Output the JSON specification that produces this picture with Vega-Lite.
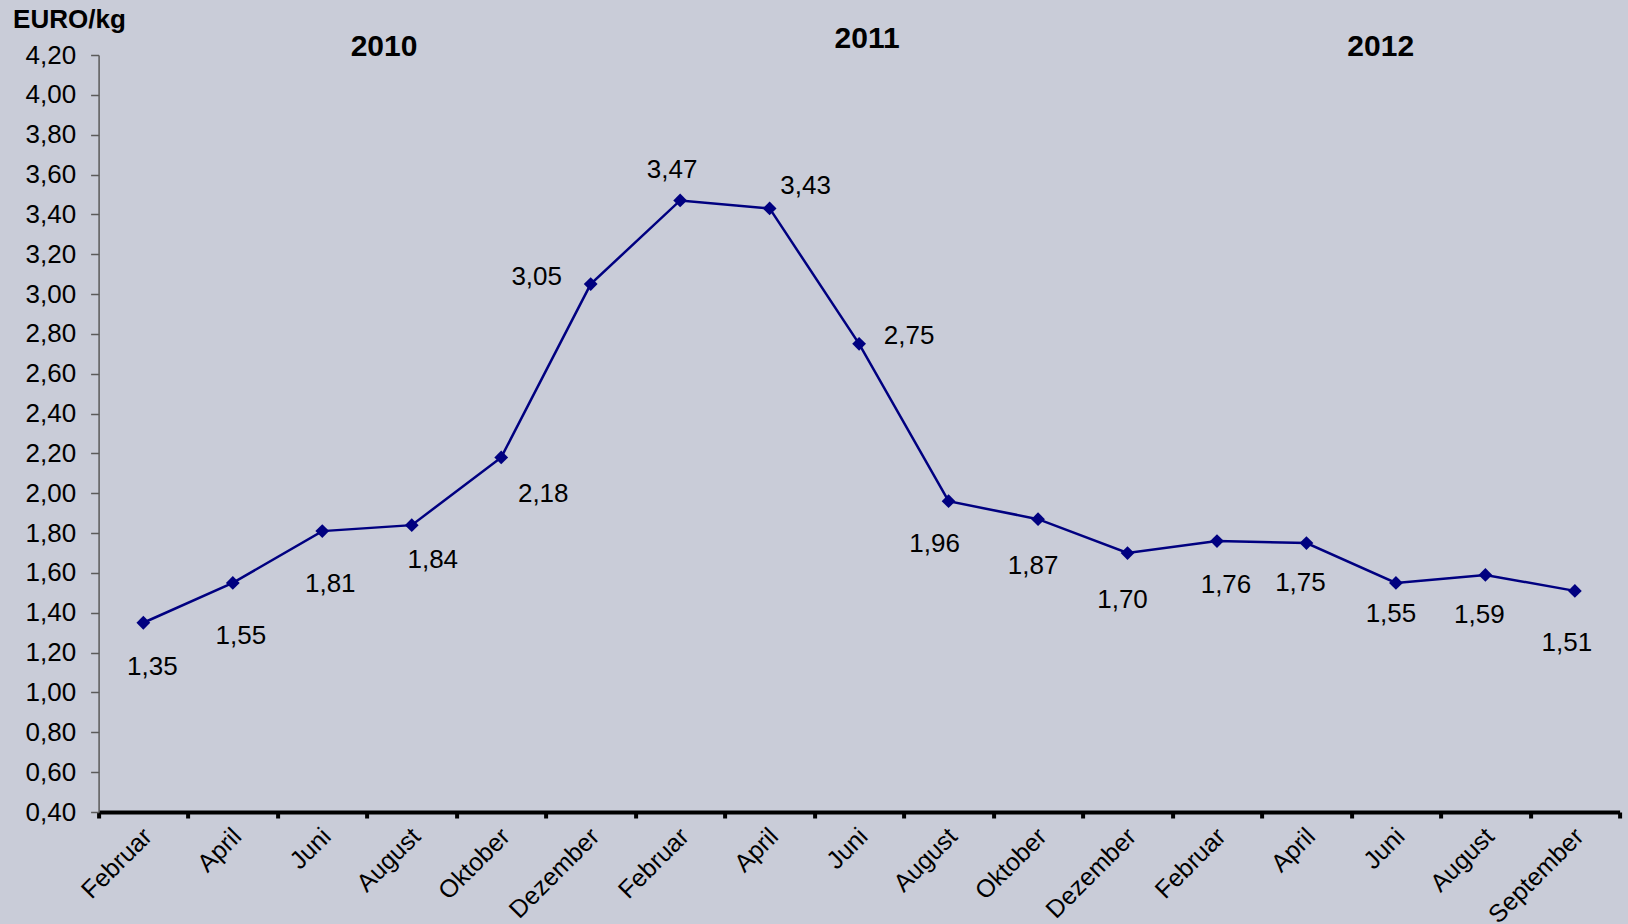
{
  "$schema": "https://vega.github.io/schema/vega-lite/v6.json",
  "width": 1521,
  "height": 757,
  "autosize": {"type": "none"},
  "padding": {"left": 98.6, "top": 55, "right": 8.4, "bottom": 112},
  "background": "#c9ccd8",
  "config": {
    "locale": {"number": {"decimal": ",", "thousands": ".", "grouping": [3], "currency": ["", " €"]}},
    "view": {"stroke": null},
    "font": "Liberation Sans",
    "text": {"font": "Liberation Sans", "fontSize": 26, "color": "#000000", "baseline": "middle", "align": "center"}
  },
  "datasets": {
    "preise": [
      {"key": "Februar 2010", "i": 0, "preis": 1.35},
      {"key": "April 2010", "i": 1, "preis": 1.55},
      {"key": "Juni 2010", "i": 2, "preis": 1.81},
      {"key": "August 2010", "i": 3, "preis": 1.84},
      {"key": "Oktober 2010", "i": 4, "preis": 2.18},
      {"key": "Dezember 2010", "i": 5, "preis": 3.05},
      {"key": "Februar 2011", "i": 6, "preis": 3.47},
      {"key": "April 2011", "i": 7, "preis": 3.43},
      {"key": "Juni 2011", "i": 8, "preis": 2.75},
      {"key": "August 2011", "i": 9, "preis": 1.96},
      {"key": "Oktober 2011", "i": 10, "preis": 1.87},
      {"key": "Dezember 2011", "i": 11, "preis": 1.70},
      {"key": "Februar 2012", "i": 12, "preis": 1.76},
      {"key": "April 2012", "i": 13, "preis": 1.75},
      {"key": "Juni 2012", "i": 14, "preis": 1.55},
      {"key": "August 2012", "i": 15, "preis": 1.59},
      {"key": "September 2012", "i": 16, "preis": 1.51}
    ],
    "jahre": [
      {"jahr": "2010", "pos": 3.19, "preis": 4.24},
      {"jahr": "2011", "pos": 8.59, "preis": 4.28},
      {"jahr": "2012", "pos": 14.33, "preis": 4.24}
    ]
  },
  "encoding": {
    "y": {
      "field": "preis",
      "type": "quantitative",
      "scale": {"domain": [0.4, 4.2], "nice": false, "zero": false},
      "axis": {
        "values": [0.4, 0.6, 0.8, 1.0, 1.2, 1.4, 1.6, 1.8, 2.0, 2.2, 2.4, 2.6, 2.8, 3.0, 3.2, 3.4, 3.6, 3.8, 4.0, 4.2],
        "format": ".2f",
        "grid": false,
        "domainColor": "#5a5a5a",
        "domainWidth": 1.5,
        "tickColor": "#5a5a5a",
        "tickWidth": 1.5,
        "tickSize": 8,
        "labelPadding": 15,
        "labelFont": "Liberation Sans",
        "labelFontSize": 26,
        "labelColor": "#000000",
        "title": "EURO/kg",
        "titleAngle": 0,
        "titleAlign": "left",
        "titleBaseline": "alphabetic",
        "titleX": -86,
        "titleY": -28,
        "titleFont": "Liberation Sans",
        "titleFontSize": 26,
        "titleFontWeight": "bold",
        "titleColor": "#000000"
      }
    }
  },
  "layer": [
    {
      "data": {"name": "preise"},
      "encoding": {
        "x": {
          "field": "key",
          "type": "nominal",
          "sort": null,
          "scale": {"type": "band", "paddingInner": 0, "paddingOuter": 0},
          "axis": {
            "title": null,
            "labelExpr": "isString(datum.value) ? split(datum.value, ' ')[0] : ''",
            "labelAngle": -45,
            "labelAlign": "right",
            "labelBaseline": "middle",
            "labelOffset": 4,
            "labelPadding": 14,
            "labelFont": "Liberation Sans",
            "labelFontSize": 25,
            "labelColor": "#000000",
            "domainColor": "#000000",
            "domainWidth": 4,
            "tickColor": "#000000",
            "tickWidth": 4,
            "tickSize": 6,
            "tickBand": "extent",
            "grid": false
          }
        }
      },
      "layer": [
        {"mark": {"type": "line", "color": "#000080", "strokeWidth": 2.5}},
        {"mark": {"type": "point", "shape": "diamond", "filled": true, "color": "#000080", "size": 190, "opacity": 1}},
        {"transform": [{"filter": {"field": "i", "oneOf": [1, 2]}}], "mark": {"type": "text", "dx": 8, "dy": 53}, "encoding": {"text": {"field": "preis", "type": "quantitative", "format": ".2f"}}},
        {"transform": [{"filter": {"field": "i", "oneOf": [16]}}], "mark": {"type": "text", "dx": -8, "dy": 52}, "encoding": {"text": {"field": "preis", "type": "quantitative", "format": ".2f"}}},
        {"transform": [{"filter": {"field": "i", "oneOf": [0, 12]}}], "mark": {"type": "text", "dx": 9, "dy": 44}, "encoding": {"text": {"field": "preis", "type": "quantitative", "format": ".2f"}}},
        {"transform": [{"filter": {"field": "i", "oneOf": [10, 11]}}], "mark": {"type": "text", "dx": -5, "dy": 47}, "encoding": {"text": {"field": "preis", "type": "quantitative", "format": ".2f"}}},
        {"transform": [{"filter": {"field": "i", "oneOf": [9]}}], "mark": {"type": "text", "dx": -14, "dy": 43}, "encoding": {"text": {"field": "preis", "type": "quantitative", "format": ".2f"}}},
        {"transform": [{"filter": {"field": "i", "oneOf": [13, 15]}}], "mark": {"type": "text", "dx": -6, "dy": 40}, "encoding": {"text": {"field": "preis", "type": "quantitative", "format": ".2f"}}},
        {"transform": [{"filter": {"field": "i", "oneOf": [14]}}], "mark": {"type": "text", "dx": -5, "dy": 31}, "encoding": {"text": {"field": "preis", "type": "quantitative", "format": ".2f"}}},
        {"transform": [{"filter": {"field": "i", "oneOf": [3]}}], "mark": {"type": "text", "dx": 21, "dy": 35}, "encoding": {"text": {"field": "preis", "type": "quantitative", "format": ".2f"}}},
        {"transform": [{"filter": {"field": "i", "oneOf": [4]}}], "mark": {"type": "text", "dx": 42, "dy": 37}, "encoding": {"text": {"field": "preis", "type": "quantitative", "format": ".2f"}}},
        {"transform": [{"filter": {"field": "i", "oneOf": [5]}}], "mark": {"type": "text", "dx": -54, "dy": -7}, "encoding": {"text": {"field": "preis", "type": "quantitative", "format": ".2f"}}},
        {"transform": [{"filter": {"field": "i", "oneOf": [6]}}], "mark": {"type": "text", "dx": -8, "dy": -30}, "encoding": {"text": {"field": "preis", "type": "quantitative", "format": ".2f"}}},
        {"transform": [{"filter": {"field": "i", "oneOf": [7]}}], "mark": {"type": "text", "dx": 36, "dy": -22}, "encoding": {"text": {"field": "preis", "type": "quantitative", "format": ".2f"}}},
        {"transform": [{"filter": {"field": "i", "oneOf": [8]}}], "mark": {"type": "text", "dx": 50, "dy": -8}, "encoding": {"text": {"field": "preis", "type": "quantitative", "format": ".2f"}}}
      ]
    },
    {
      "data": {"name": "jahre"},
      "mark": {"type": "text", "fontWeight": "bold", "fontSize": 30},
      "encoding": {
        "x": {"field": "pos", "type": "quantitative", "scale": {"domain": [0, 17], "nice": false, "zero": false}, "axis": null},
        "text": {"field": "jahr", "type": "nominal"}
      }
    }
  ],
  "resolve": {"scale": {"x": "independent"}, "axis": {"x": "independent"}}
}
